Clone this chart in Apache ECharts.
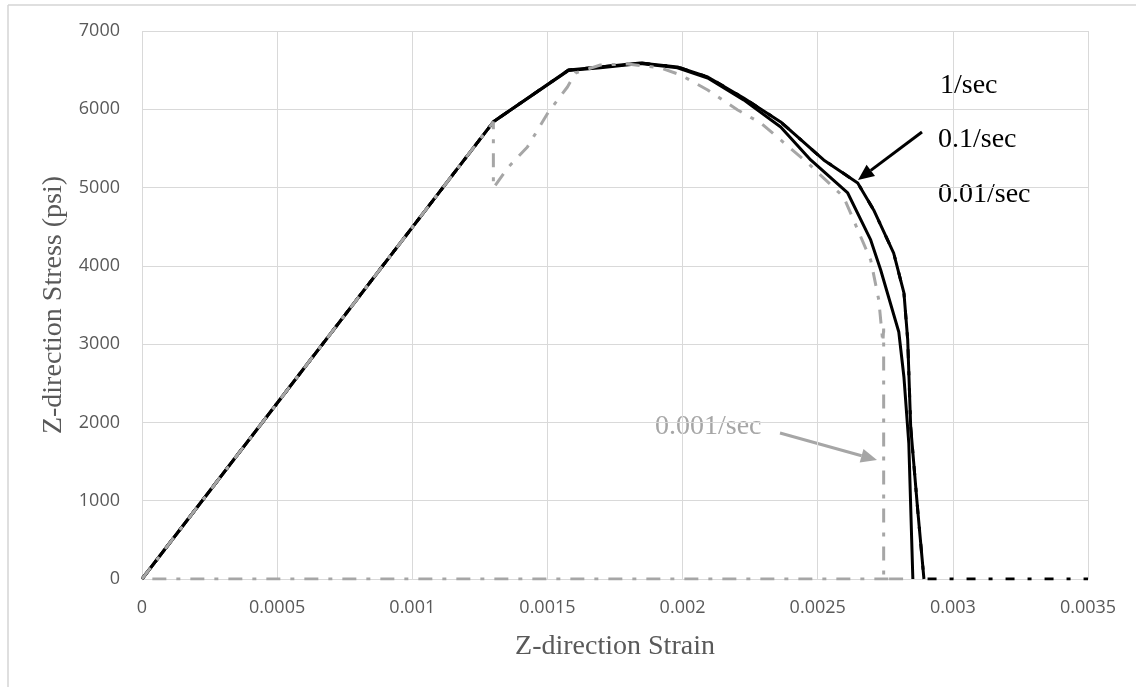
<!DOCTYPE html>
<html>
<head>
<meta charset="utf-8">
<script src="https://cdn.jsdelivr.net/npm/echarts@6/dist/echarts.min.js"></script>
<style>
  html, body { margin: 0; padding: 0; background: #fff; }
  #chart { width: 1136px; height: 687px; }
</style>
</head>
<body>
<div id="chart"></div>
<script>
// axis ticks
var xTicks = [0, 0.0005, 0.001, 0.0015, 0.002, 0.0025, 0.003, 0.0035];
var yTicks = [0, 1000, 2000, 3000, 4000, 5000, 6000, 7000];

// 1/sec (outer black line)
var rate1Strain = [0, 0.0013, 0.001578, 0.001696, 0.001844, 0.001981, 0.002093, 0.002226, 0.002363, 0.002522, 0.002648, 0.002707, 0.002781, 0.002819, 0.002833, 0.002844, 0.00287, 0.002893];
var rate1Stress = [0, 5840, 6502, 6541, 6592, 6541, 6413, 6145, 5838, 5353, 5059, 4714, 4164, 3654, 3053, 1942, 881, 0];

// 0.1/sec (inner black line)
var rate01Strain = [0, 0.0013, 0.001578, 0.001696, 0.001844, 0.001981, 0.002093, 0.002226, 0.002363, 0.002474, 0.002611, 0.002696, 0.002733, 0.0028, 0.002819, 0.002837, 0.002852];
var rate01Stress = [0, 5840, 6495, 6530, 6585, 6530, 6400, 6120, 5774, 5353, 4931, 4331, 3947, 3155, 2580, 1737, 0];

// 0.01/sec (black dash-dot, under the solid lines, runs on along zero)
var rate001Strain = [0, 0.0013, 0.001578, 0.001696, 0.001844, 0.001981, 0.002093, 0.002226, 0.002363, 0.002522, 0.002648, 0.002707, 0.002781, 0.002819, 0.002833, 0.002844, 0.00287, 0.002893, 0.0035];
var rate001Stress = [0, 5840, 6502, 6541, 6592, 6541, 6413, 6145, 5838, 5353, 5059, 4714, 4164, 3654, 3053, 1942, 881, 0, 0];

// 0.001/sec (grey dash-dot)
var rate0001Strain = [0, 0.0013, 0.0013, 0.001356, 0.001426, 0.001504, 0.001574, 0.001604, 0.001696, 0.001796, 0.001919, 0.001993, 0.002093, 0.002204, 0.002289, 0.002363, 0.002463, 0.002596, 0.002696, 0.002726, 0.002741, 0.002744, 0.002744, 0.002833, 0];
var rate0001Stress = [0, 5840, 4995, 5263, 5519, 5966, 6285, 6464, 6566, 6579, 6528, 6438, 6247, 5991, 5825, 5608, 5314, 4880, 4075, 3564, 3015, 3200, 0, 0, 0];

function pairs(xs, ys) {
  var out = [];
  for (var i = 0; i < xs.length; i++) out.push([xs[i], ys[i]]);
  return out;
}

var GRID = '#d9d9d9';
var TXT = '#595959';
var GREY = '#a6a6a6';
var SERIF = '"Liberation Serif", "Times New Roman", serif';

var myChart = echarts.init(document.getElementById('chart'));

var option = {
  animation: false,
  backgroundColor: '#fff',
  grid: { left: 142, right: 48, top: 31, bottom: 108 },
  xAxis: {
    type: 'value',
    min: xTicks[0],
    max: xTicks[xTicks.length - 1],
    interval: xTicks[1] - xTicks[0],
    name: 'Z-direction Strain',
    nameLocation: 'middle',
    nameGap: 54,
    nameTextStyle: { fontFamily: SERIF, fontSize: 28, color: TXT },
    axisLine: { show: true, lineStyle: { color: GRID, width: 1 } },
    axisTick: { show: false },
    axisLabel: {
      margin: 20,
      fontFamily: 'Open Sans', fontSize: 18, color: TXT,
      formatter: function (v) { return String(parseFloat(v.toFixed(4))); }
    },
    splitLine: { show: true, lineStyle: { color: GRID, width: 1 } }
  },
  yAxis: {
    type: 'value',
    min: yTicks[0],
    max: yTicks[yTicks.length - 1],
    interval: yTicks[1] - yTicks[0],
    name: 'Z-direction Stress (psi)',
    nameLocation: 'middle',
    nameGap: 62,
    nameTextStyle: { fontFamily: SERIF, fontSize: 28, color: TXT },
    axisLine: { show: false },
    axisTick: { show: false },
    axisLabel: {
      margin: 22, fontFamily: 'Open Sans', fontSize: 18, color: TXT,
      formatter: function (v) { return String(v); }
    },
    splitLine: { show: true, lineStyle: { color: GRID, width: 1 } }
  },
  series: [
    {
      name: '0.01/sec', type: 'line', showSymbol: false,
      lineStyle: { color: '#000', width: 3, type: [9, 13, 4, 13] },
      data: pairs(rate001Strain, rate001Stress)
    },
    {
      name: '1/sec', type: 'line', showSymbol: false,
      lineStyle: { color: '#000', width: 3 },
      data: pairs(rate1Strain, rate1Stress)
    },
    {
      name: '0.1/sec', type: 'line', showSymbol: false,
      lineStyle: { color: '#000', width: 3 },
      data: pairs(rate01Strain, rate01Stress)
    },
    {
      name: '0.001/sec', type: 'line', showSymbol: false,
      lineStyle: { color: GREY, width: 3, type: [14, 10, 4, 10] },
      data: pairs(rate0001Strain, rate0001Stress)
    }
  ],
  graphic: [
    // outer frame of the figure
    { type: 'line', shape: { x1: 8, y1: 5, x2: 1136, y2: 5 }, style: { stroke: '#d4d4d4', lineWidth: 1.5 } },
    { type: 'line', shape: { x1: 8, y1: 5, x2: 8, y2: 687 }, style: { stroke: '#d4d4d4', lineWidth: 1.5 } },
    // rate labels
    { type: 'text', x: 940, y: 86, style: { text: '1/sec', font: '28px ' + SERIF, fill: '#000', textVerticalAlign: 'middle' } },
    { type: 'text', x: 938, y: 140, style: { text: '0.1/sec', font: '28px ' + SERIF, fill: '#000', textVerticalAlign: 'middle' } },
    { type: 'text', x: 938, y: 195, style: { text: '0.01/sec', font: '28px ' + SERIF, fill: '#000', textVerticalAlign: 'middle' } },
    { type: 'text', x: 655, y: 427, style: { text: '0.001/sec', font: '28px ' + SERIF, fill: GREY, textVerticalAlign: 'middle' } },
    // black arrow
    { type: 'line', shape: { x1: 922, y1: 132, x2: 870.8, y2: 170.4 }, style: { stroke: '#000', lineWidth: 3 } },
    { type: 'polygon', shape: { points: [[858, 180], [875, 176], [866.6, 164.8]] }, style: { fill: '#000' } },
    // grey arrow
    { type: 'line', shape: { x1: 780, y1: 433, x2: 861.6, y2: 455.7 }, style: { stroke: GREY, lineWidth: 3 } },
    { type: 'polygon', shape: { points: [[877, 460], [859.7, 462.4], [863.5, 449]] }, style: { fill: GREY } }
  ]
};

myChart.setOption(option);
</script>
</body>
</html>
